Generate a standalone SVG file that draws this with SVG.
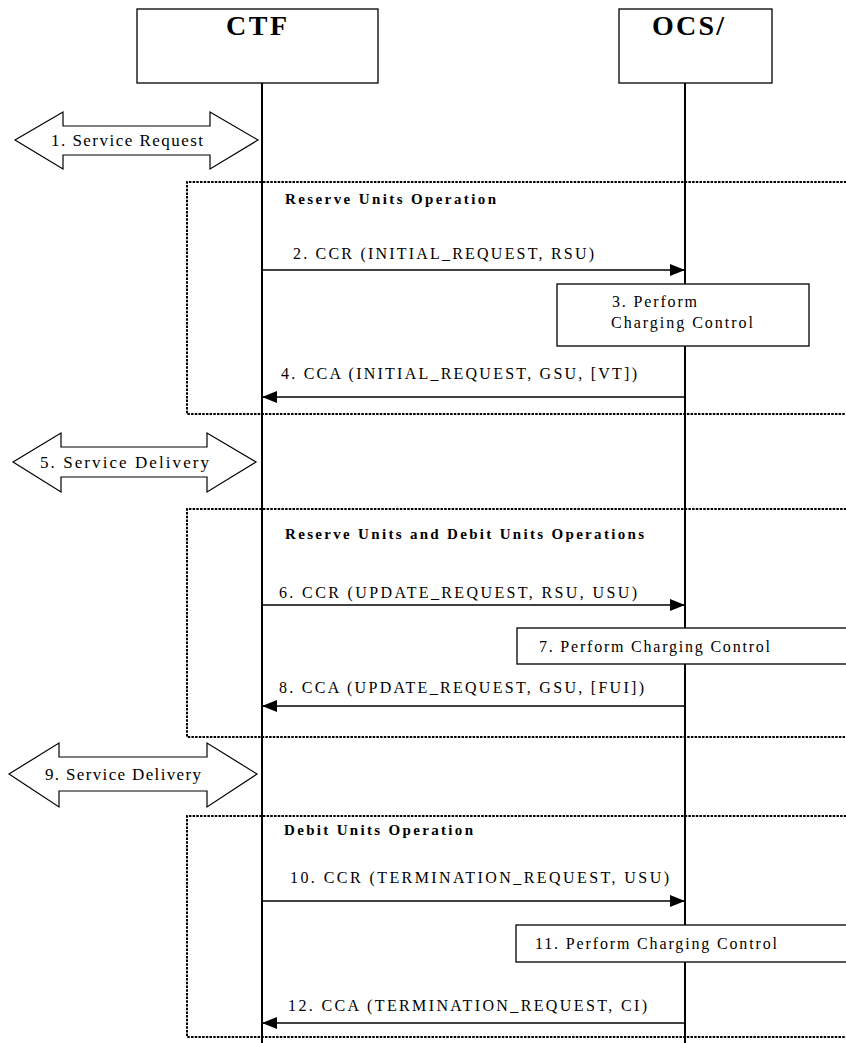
<svg xmlns="http://www.w3.org/2000/svg" width="846" height="1043" viewBox="0 0 846 1043">
<style>
.bg{fill:#fff}
.box{fill:#fff;stroke:#000;stroke-width:1.3}
.life{stroke:#000;stroke-width:2;fill:none}
.frame{fill:none;stroke:#000;stroke-width:2;stroke-dasharray:2.5 1.2}
.msg{stroke:#000;stroke-width:1.4;fill:none}
.dbl{fill:#fff;stroke:#000;stroke-width:1.2}
.t{font-family:'Liberation Serif','Times New Roman',serif;font-size:16px;fill:#000}
.d{font-family:'Liberation Serif','Times New Roman',serif;font-size:17px;fill:#000}
.h{font-family:'Liberation Serif','Times New Roman',serif;font-size:15px;font-weight:bold;fill:#000}
.title{font-family:'Liberation Serif','Times New Roman',serif;font-size:28px;font-weight:bold;fill:#000}
</style>
<defs>
<marker id="ah" markerUnits="userSpaceOnUse" markerWidth="16" markerHeight="13" refX="15" refY="6" orient="auto">
<path d="M0,0 L15,6 L0,12 z" fill="#000"/>
</marker>
</defs>
<rect class="bg" x="0" y="0" width="846" height="1043"/>

<g id="frames">
<path class="frame" d="M850,182 H187 V414 H850"/>
<path class="frame" d="M850,509 H187 V737 H850"/>
<path class="frame" d="M850,816 H187 V1037 H850"/>
</g>

<g id="lifelines">
<line class="life" x1="262" y1="83" x2="262" y2="1043"/>
<line class="life" x1="685" y1="83" x2="685" y2="1043"/>
</g>

<g id="node-ctf">
<rect class="box" x="137" y="9" width="241" height="74"/>
<text class="title" x="226" y="35" textLength="61" lengthAdjust="spacing">CTF</text>
</g>
<g id="node-ocs">
<rect class="box" x="619" y="9" width="153" height="74"/>
<text class="title" x="652" y="35" textLength="72" lengthAdjust="spacing">OCS/</text>
</g>

<g id="node-service-request">
<polygon class="dbl" points="15,140 63,112 63,126 210,126 210,112 258,140 210,169 210,155 63,155 63,169"/>
<text class="d" x="51" y="146" textLength="152" lengthAdjust="spacing">1. Service Request</text>
</g>
<g id="node-service-delivery-5">
<polygon class="dbl" points="13,462 61,433 61,447 207,447 207,433 256,462 207,492 207,477 61,477 61,492"/>
<text class="d" x="40" y="468" textLength="169" lengthAdjust="spacing">5. Service Delivery</text>
</g>
<g id="node-service-delivery-9">
<polygon class="dbl" points="9,774 59,743 59,757 207,757 207,743 257,774 207,807 207,791 59,791 59,807"/>
<text class="d" x="45" y="780" textLength="156" lengthAdjust="spacing">9. Service Delivery</text>
</g>

<g id="labels-frames">
<text class="h" x="285" y="204" textLength="211" lengthAdjust="spacing">Reserve Units Operation</text>
<text class="h" x="285" y="539" textLength="359" lengthAdjust="spacing">Reserve Units and Debit Units Operations</text>
<text class="h" x="284" y="835" textLength="189" lengthAdjust="spacing">Debit Units Operation</text>
</g>

<g id="node-cc3">
<rect class="box" x="557" y="284" width="252" height="62"/>
<text class="t" x="612" y="307" textLength="85" lengthAdjust="spacing">3. Perform</text>
<text class="t" x="611" y="328" textLength="142" lengthAdjust="spacing">Charging Control</text>
</g>
<g id="node-cc7">
<rect class="box" x="517" y="628" width="340" height="36"/>
<text class="t" x="539" y="652" textLength="231" lengthAdjust="spacing">7. Perform Charging Control</text>
</g>
<g id="node-cc11">
<rect class="box" x="516" y="925" width="340" height="37"/>
<text class="t" x="535" y="949" textLength="242" lengthAdjust="spacing">11. Perform Charging Control</text>
</g>

<g id="connectors">
<line class="msg" x1="262" y1="270" x2="685" y2="270" marker-end="url(#ah)"/>
<line class="msg" x1="685" y1="397" x2="262" y2="397" marker-end="url(#ah)"/>
<line class="msg" x1="262" y1="605" x2="685" y2="605" marker-end="url(#ah)"/>
<line class="msg" x1="685" y1="706" x2="262" y2="706" marker-end="url(#ah)"/>
<line class="msg" x1="262" y1="901" x2="685" y2="901" marker-end="url(#ah)"/>
<line class="msg" x1="685" y1="1023" x2="262" y2="1023" marker-end="url(#ah)"/>
<text class="t" x="293" y="259" textLength="301" lengthAdjust="spacing">2. CCR (INITIAL_REQUEST, RSU)</text>
<text class="t" x="281" y="379" textLength="356" lengthAdjust="spacing">4. CCA (INITIAL_REQUEST, GSU, [VT])</text>
<text class="t" x="279" y="598" textLength="358" lengthAdjust="spacing">6. CCR (UPDATE_REQUEST, RSU, USU)</text>
<text class="t" x="279" y="693" textLength="365" lengthAdjust="spacing">8. CCA (UPDATE_REQUEST, GSU, [FUI])</text>
<text class="t" x="290" y="883" textLength="379" lengthAdjust="spacing">10. CCR (TERMINATION_REQUEST, USU)</text>
<text class="t" x="288" y="1011" textLength="359" lengthAdjust="spacing">12. CCA (TERMINATION_REQUEST, CI)</text>
</g>
</svg>
